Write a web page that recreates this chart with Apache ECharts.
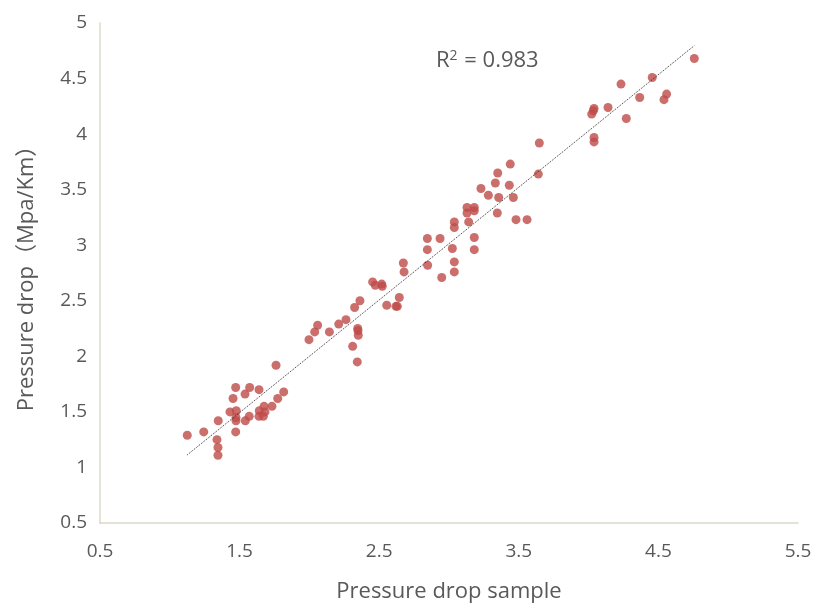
<!DOCTYPE html>
<html>
<head>
<meta charset="utf-8">
<script src="https://cdn.jsdelivr.net/npm/echarts@6/dist/echarts.min.js"></script>
<style>
  html, body { margin: 0; padding: 0; background: #fff; }
  #main { width: 816px; height: 608px; }
</style>
</head>
<body>
<div id="main"></div>
<script>
// sample pressure drop (x) vs predicted pressure drop (y), Mpa/Km
var sampleX = [
  1.125, 1.243, 1.338, 1.345, 1.345, 1.347, 1.472, 1.474, 1.474, 1.476,
  1.431, 1.453, 1.472, 1.539, 1.572, 1.639, 1.541, 1.569, 1.641, 1.639,
  1.675, 1.682, 1.670, 1.732, 1.773, 1.816, 1.761,
  1.997, 2.038, 2.059, 2.143, 2.210, 2.262, 2.324, 2.362, 2.346, 2.348,
  2.350, 2.310, 2.343, 2.453, 2.472, 2.518, 2.522, 2.554, 2.620, 2.630,
  2.644, 2.673, 2.678, 2.847, 2.948, 3.038, 3.038,
  2.845, 2.845, 2.936, 3.024, 3.038, 3.038, 3.129, 3.129, 3.181, 3.181,
  3.141, 3.181, 3.181, 3.229, 3.282, 3.332, 3.349, 3.356, 3.346, 3.432,
  3.439, 3.461, 3.480, 3.559, 3.640, 3.647,
  4.039, 4.034, 4.022, 4.039, 4.039, 4.139, 4.232, 4.270, 4.366, 4.456,
  4.540, 4.559, 4.757
];
var predictedY = [
  1.29, 1.32, 1.25, 1.18, 1.11, 1.42, 1.32, 1.42, 1.45, 1.51,
  1.50, 1.62, 1.72, 1.66, 1.72, 1.70, 1.42, 1.46, 1.51, 1.46,
  1.55, 1.50, 1.46, 1.55, 1.62, 1.68, 1.92,
  2.15, 2.22, 2.28, 2.22, 2.29, 2.33, 2.44, 2.50, 2.25, 2.23,
  2.19, 2.09, 1.95, 2.67, 2.64, 2.65, 2.63, 2.46, 2.45, 2.45,
  2.53, 2.84, 2.76, 2.82, 2.71, 2.85, 2.76,
  3.06, 2.96, 3.06, 2.97, 3.21, 3.16, 3.34, 3.29, 3.34, 3.31,
  3.21, 3.07, 2.96, 3.51, 3.45, 3.56, 3.65, 3.43, 3.29, 3.54,
  3.73, 3.43, 3.23, 3.23, 3.64, 3.92,
  4.23, 4.21, 4.18, 3.97, 3.93, 4.24, 4.45, 4.14, 4.33, 4.51,
  4.31, 4.36, 4.68
];
var rSquared = '0.983';

var points = sampleX.map(function (x, i) { return [x, predictedY[i]]; });

// least squares trend line over the samples
var n = points.length, sx = 0, sy = 0, sxx = 0, sxy = 0;
points.forEach(function (p) {
  sx += p[0]; sy += p[1]; sxx += p[0] * p[0]; sxy += p[0] * p[1];
});
var slope = (n * sxy - sx * sy) / (n * sxx - sx * sx);
var intercept = (sy - slope * sx) / n;
var xMin = Math.min.apply(null, sampleX), xMax = Math.max.apply(null, sampleX);
var trend = [[xMin, slope * xMin + intercept], [xMax, slope * xMax + intercept]];

var font = '"Open Sans", "Noto Sans", "Noto Sans CJK SC", sans-serif';
var grey = '#595959';

var option = {
  backgroundColor: '#fff',
  animation: false,
  grid: { left: 100, right: 18, top: 23, bottom: 82 },
  title: {
    text: 'R{sup|2} = ' + rSquared,
    left: 431, top: 44,
    textStyle: {
      color: grey, fontSize: 22, fontWeight: 'normal', fontFamily: font,
      rich: { sup: { fontSize: 14, verticalAlign: 'top', padding: [0, 1, 10, 0], color: grey, fontFamily: font } }
    }
  },
  xAxis: {
    type: 'value', min: 0.5, max: 5.5, interval: 0.5,
    name: 'Pressure drop sample', nameLocation: 'middle', nameGap: 58,
    nameTextStyle: { color: grey, fontSize: 22, fontFamily: font },
    axisLine: { show: true, lineStyle: { color: '#dcd8c8', width: 1.5 } },
    axisTick: { show: false },
    splitLine: { show: false },
    axisLabel: {
      color: grey, fontSize: 19, fontFamily: font, margin: 19,
      showMinLabel: true, showMaxLabel: true,
      formatter: function (v) {
        return Math.abs(v - Math.floor(v) - 0.5) < 1e-6 ? String(v) : '';
      }
    }
  },
  yAxis: {
    type: 'value', min: 0.5, max: 5, interval: 0.5,
    name: 'Pressure drop（Mpa/Km）', nameLocation: 'middle', nameGap: 62,
    nameTextStyle: { color: grey, fontSize: 22, fontFamily: font },
    axisLine: { show: true, lineStyle: { color: '#dcd8c8', width: 1.5 } },
    axisTick: { show: false },
    splitLine: { show: false },
    axisLabel: { color: grey, fontSize: 19, fontFamily: font, margin: 13 }
  },
  series: [{
    type: 'line',
    data: trend,
    symbol: 'none',
    lineStyle: { color: '#262626', width: 1, type: [1, 1.2] },
    z: 3
  }, {
    type: 'scatter',
    data: points,
    symbolSize: 9,
    itemStyle: { color: '#be4b48' },
    z: 2
  }]
};

var myChart = echarts.init(document.getElementById('main'));
myChart.setOption(option);
</script>
</body>
</html>
